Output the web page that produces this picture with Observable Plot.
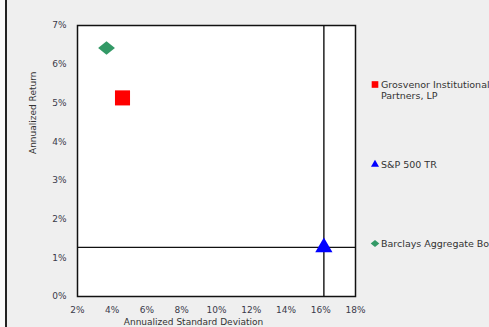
<!DOCTYPE html>
<html>
<head>
<meta charset="utf-8">
<script src="https://cdn.jsdelivr.net/npm/d3@7"></script>
<script src="https://cdn.jsdelivr.net/npm/@observablehq/plot@0.6"></script>
<style>
  html, body { margin: 0; padding: 0; }
  body { width: 489px; height: 327px; overflow: hidden; background: #efefef; position: relative; font-family: "DejaVu Sans", Verdana, sans-serif; }
  #edge { position: absolute; left: 5px; top: 0; width: 2px; height: 327px; background: #222; }
  #left { position: absolute; left: 0; top: 0; width: 5px; height: 327px; background: #fafafa; }
  #chart { position: absolute; left: 0; top: 0; }
  .leg { position: absolute; left: 371px; font-size: 9.5px; color: #333; white-space: nowrap; line-height: 11px; }
  .leg svg { position: absolute; left: 0; top: 0; overflow: visible; }
  .leg span { position: absolute; left: 10px; top: 0; }
</style>
</head>
<body>
<div id="left"></div>
<div id="edge"></div>
<div id="chart"></div>
<div id="legend"></div>
<script>
const series = ["Grosvenor Institutional Partners, LP", "S&P 500 TR", "Barclays Aggregate Bond Index"];
const legendLines = [["Grosvenor Institutional", "Partners, LP"], ["S&P 500 TR"], ["Barclays Aggregate Bond Index"]];
const stdDev = [4.59, 16.18, 3.67];   // Annualized Standard Deviation (%)
const returns = [5.13, 1.27, 6.42];   // Annualized Return (%)
const colors = ["#ff0000", "#0000ff", "#339966"];
const xTicks = [2, 4, 6, 8, 10, 12, 14, 16, 18];
const yTicks = [0, 1, 2, 3, 4, 5, 6, 7];
const benchmark = 1; // index of S&P 500 TR (crosshair)

const wideDiamond = {
  draw(context, size) {
    const a = Math.sqrt(size / 1.6), b = 0.8 * a;
    context.moveTo(-a, 0); context.lineTo(0, -b); context.lineTo(a, 0); context.lineTo(0, b); context.closePath();
  }
};
const symbols = [d3.symbolSquare, d3.symbolTriangle, wideDiamond];
const sizes = [8.5, 6.4, 6];

const data = series.map((s, i) => ({name: s, x: stdDev[i], y: returns[i], color: colors[i], symbol: symbols[i], r: sizes[i]}));

const chart = Plot.plot({
  width: 489,
  height: 327,
  marginLeft: 77,
  marginRight: 134,
  marginTop: 25,
  marginBottom: 31,
  x: {domain: [2, 18]},
  y: {domain: [0, 7]},
  style: {background: "transparent", fontFamily: "DejaVu Sans, Verdana, sans-serif", fontSize: "9px", color: "#3a3a4a"},
  marks: [
    Plot.frame({fill: "white", stroke: null}),
    Plot.ruleX([data[benchmark]], {x: "x", stroke: "#111", strokeWidth: 1.4}),
    Plot.ruleY([data[benchmark]], {y: "y", stroke: "#111", strokeWidth: 1.4}),
    Plot.frame({stroke: "#111", strokeWidth: 1.5}),
    ...data.map(d => Plot.dot([d], {x: "x", y: "y", symbol: () => d.symbol, r: d.r, fill: d.color, stroke: null})),
    Plot.axisX(xTicks, {tickSize: 0, tickPadding: 10, tickFormat: d => d + "%", label: null}),
    Plot.axisY(yTicks, {tickSize: 0, tickPadding: 11, tickFormat: d => d + "%", label: null}),
    Plot.text(["Annualized Standard Deviation"], {frameAnchor: "bottom", dx: -23, dy: 26, lineAnchor: "middle", text: d => d, fill: "#333"}),
    Plot.text(["Annualized Return"], {frameAnchor: "left", dx: -44, dy: -7, rotate: -90, lineAnchor: "middle", text: d => d, fill: "#333"})
  ]
});
document.getElementById("chart").appendChild(chart);

// legend
const legendTops = [79, 159, 238];
const legend = document.getElementById("legend");
data.forEach((d, i) => {
  const div = document.createElement("div");
  div.className = "leg";
  div.style.top = legendTops[i] + "px";
  const svg = d3.create("svg").attr("width", 8).attr("height", 11);
  svg.append("path").attr("transform", "translate(4,5.5)")
    .attr("d", d3.symbol(d.symbol, [44, 28, 30][i])()).attr("fill", d.color);
  div.appendChild(svg.node());
  const span = document.createElement("span");
  span.innerHTML = legendLines[i].map(t => t.replace(/&/g, "&amp;")).join("<br>");
  div.appendChild(span);
  legend.appendChild(div);
});
</script>
</body>
</html>
